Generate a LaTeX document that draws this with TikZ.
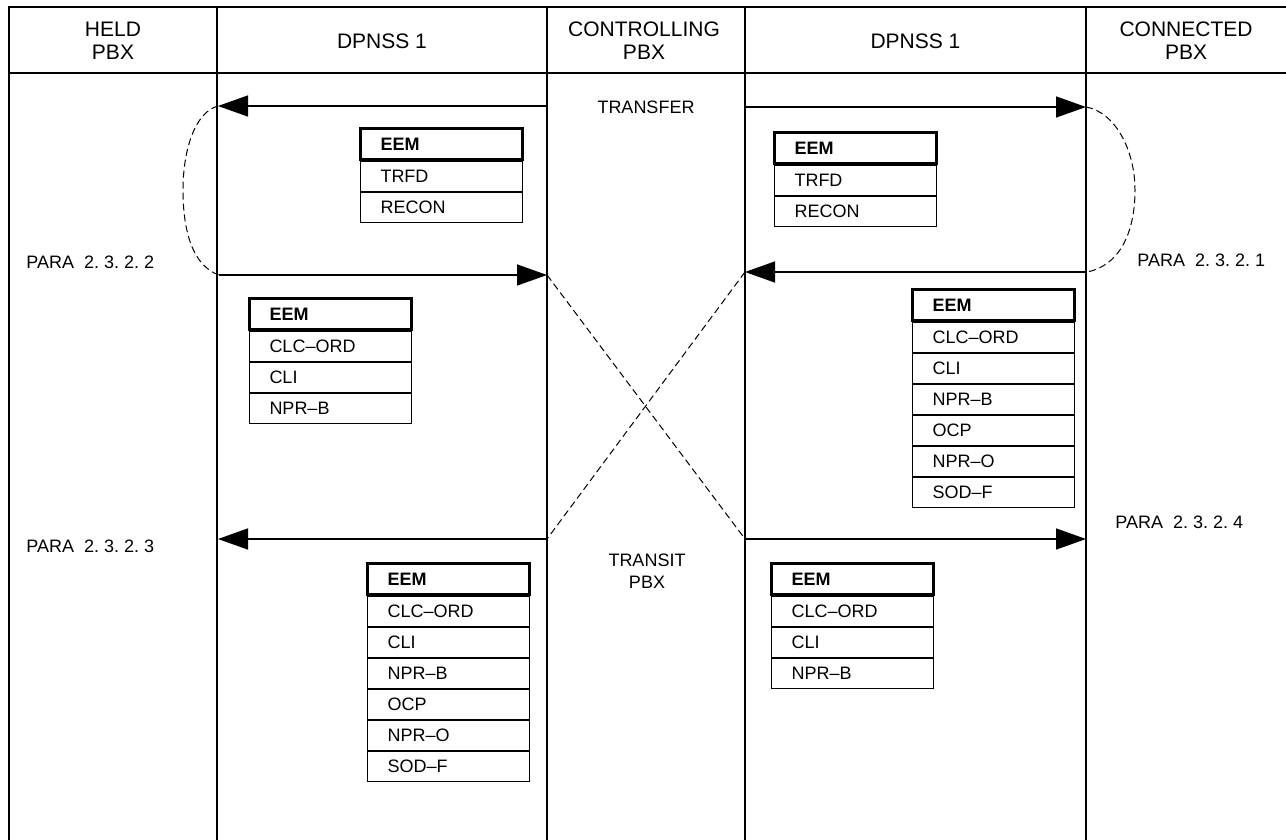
\documentclass[tikz,border=0pt]{standalone}
\usepackage{fontspec}
\setmainfont{Liberation Sans}
\usepackage{tikz}
\usetikzlibrary{arrows.meta, positioning}
\frenchspacing

\begin{document}
\begin{tikzpicture}[
				x=0.5pt, y=-0.5pt,
				node distance=0pt,
				frame/.style={line width=1pt},
				colhead/.style={align=center, font=\fontsize{10.5}{11.5}\selectfont},
				lbl/.style={align=center, inner sep=0pt, font=\fontsize{9}{11}\selectfont},
				eemrow/.style={draw, line width=0.5pt, text width=61pt, inner xsep=10pt, inner ysep=0pt,
					minimum height=15pt, align=left, font=\fontsize{9}{11}\selectfont},
				eemhead/.style={eemrow, line width=1.5pt, minimum height=15.5pt, font=\fontsize{9}{11}\selectfont\bfseries},
				msg/.style={-{Triangle[length=15pt,width=10.5pt]}, line width=0.7pt},
				link/.style={dash pattern=on 3.5pt off 2pt, line width=0.5pt}
				]
				\useasboundingbox (0,0) rectangle (1286,840);

				% frame and columns
				\draw[frame] (1286,7.3) -- (8.7,7.3) -- (8.7,840);
				\draw[frame] (8.7,73) -- (1286,73);
				\foreach \cx in {217,547,745,1086}
					\draw[frame] (\cx,7.3) -- (\cx,840);

				\node[colhead] (hHeld) at (113,41) {HELD\\PBX};
				\node[colhead] (hDpnssL) at (382,41) {DPNSS 1};
				\node[colhead] (hCtrl) at (644,41) {CONTROLLING\\PBX};
				\node[colhead] (hDpnssR) at (915.5,41) {DPNSS 1};
				\node[colhead] (hConn) at (1186,41) {CONNECTED\\PBX};

				% message end points
				\coordinate (ctrlT) at (547,106);
				\coordinate (heldT) at (218,106);
				\coordinate (ctrlTR) at (745,107);
				\coordinate (connT) at (1086,107);
				\coordinate (heldR) at (219,275);
				\coordinate (ctrlR) at (547,275);
				\coordinate (connR) at (1087,272);
				\coordinate (ctrlRR) at (745,272);
				\coordinate (ctrlB) at (547,539);
				\coordinate (heldB) at (218,539);
				\coordinate (ctrlBR) at (745,539);
				\coordinate (connB) at (1086,539);

				\draw[msg] (ctrlT) -- (heldT);
				\draw[msg] (ctrlTR) -- (connT);
				\draw[msg] (heldR) -- (ctrlR);
				\draw[msg] (connR) -- (ctrlRR);
				\draw[msg] (ctrlB) -- (heldB);
				\draw[msg] (ctrlBR) -- (connB);

				\draw[link] (heldT) .. controls (195,112) and (183,150) .. (183,190)
					.. controls (183,232) and (193,266) .. (heldR);
				\draw[link] (connT) .. controls (1115,112) and (1135,150) .. (1135,190)
					.. controls (1135,235) and (1118,266) .. (connR);
				\draw[link] (ctrlR) -- (ctrlBR);
				\draw[link] (ctrlRR) -- (ctrlB);

				\node[lbl] (transfer) at (646,107) {TRANSFER};
				\node[lbl] (transit) at (647,571) {TRANSIT\\PBX};
				\node[lbl, anchor=west] (para2) at (26,262) {PARA\ \ 2. 3. 2. 2};
				\node[lbl, anchor=west] (para3) at (26,546) {PARA\ \ 2. 3. 2. 3};
				\node[lbl, anchor=west] (para1) at (1137,260) {PARA\ \ 2. 3. 2. 1};
				\node[lbl, anchor=west] (para4) at (1115,522) {PARA\ \ 2. 3. 2. 4};

				% transfer messages
				\node[eemhead, anchor=north west] (trfdL) at (359,127) {EEM};
				\node[eemrow, below=of trfdL] (trfdL1) {TRFD};
				\node[eemrow, below=of trfdL1] (trfdL2) {RECON};

				\node[eemhead, anchor=north west] (trfdR) at (773,131) {EEM};
				\node[eemrow, below=of trfdR] (trfdR1) {TRFD};
				\node[eemrow, below=of trfdR1] (trfdR2) {RECON};

				% replies towards controlling pbx
				\node[eemhead, anchor=north west] (replyL) at (248,297) {EEM};
				\node[eemrow, below=of replyL] (replyL1) {CLC--ORD};
				\node[eemrow, below=of replyL1] (replyL2) {CLI};
				\node[eemrow, below=of replyL2] (replyL3) {NPR--B};

				\node[eemhead, anchor=north west] (replyR) at (911,288) {EEM};
				\node[eemrow, below=of replyR] (replyR1) {CLC--ORD};
				\node[eemrow, below=of replyR1] (replyR2) {CLI};
				\node[eemrow, below=of replyR2] (replyR3) {NPR--B};
				\node[eemrow, below=of replyR3] (replyR4) {OCP};
				\node[eemrow, below=of replyR4] (replyR5) {NPR--O};
				\node[eemrow, below=of replyR5] (replyR6) {SOD--F};

				% transit messages
				\node[eemhead, anchor=north west] (transL) at (366,562) {EEM};
				\node[eemrow, below=of transL] (transL1) {CLC--ORD};
				\node[eemrow, below=of transL1] (transL2) {CLI};
				\node[eemrow, below=of transL2] (transL3) {NPR--B};
				\node[eemrow, below=of transL3] (transL4) {OCP};
				\node[eemrow, below=of transL4] (transL5) {NPR--O};
				\node[eemrow, below=of transL5] (transL6) {SOD--F};

				\node[eemhead, anchor=north west] (transR) at (770,562) {EEM};
				\node[eemrow, below=of transR] (transR1) {CLC--ORD};
				\node[eemrow, below=of transR1] (transR2) {CLI};
				\node[eemrow, below=of transR2] (transR3) {NPR--B};
			\end{tikzpicture}
\end{document}
